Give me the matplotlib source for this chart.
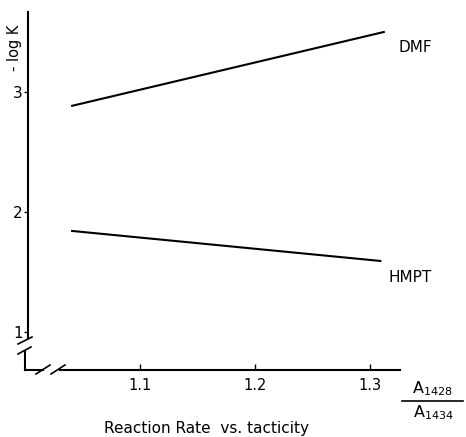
import matplotlib
matplotlib.use("Agg")
import matplotlib.pyplot as plt

# Data
x_dmf = [1.041, 1.312]
y_dmf = [2.885, 3.50]
x_hmpt = [1.041, 1.309]
y_hmpt = [1.842, 1.592]
xticks = [1.1, 1.2, 1.3]
xtick_labels = ["1.1", "1.2", "1.3"]
yticks = [1, 2, 3]
ytick_labels = ["1", "2", "3"]

W, H = 466, 437
fig = plt.figure(figsize=(W / 100, H / 100), dpi=100)
plt.rcParams['font.family'] = ['DejaVu Sans']

def fx(px):
    return px / W

def fy(py):
    return 1 - py / H

left_px, right_px, top_px, bot_px = 28, 400, 12, 370
ax = fig.add_axes([fx(left_px), fy(bot_px), fx(right_px) - fx(left_px), fy(top_px) - fy(bot_px)])
ax.patch.set_alpha(0)
for s in ax.spines.values():
    s.set_visible(False)

# x: pixel 140 -> 1.1, 115 px per 0.1
ax.set_xlim(1.1 - (140 - left_px) / 1150, 1.1 + (right_px - 140) / 1150)
# y: pixel 212 -> 2, 120 px per unit
ax.set_ylim(2 - (bot_px - 212) / 120, 2 + (212 - top_px) / 120)

ax.plot(x_dmf, y_dmf, color='black', lw=1.5)
ax.plot(x_hmpt, y_hmpt, color='black', lw=1.5)

ax.set_xticks(xticks)
ax.set_xticklabels(xtick_labels, fontsize=10.5)
ax.set_yticks(yticks)
ax.set_yticklabels(ytick_labels, fontsize=11)
ax.tick_params(axis='x', direction='in', length=4, width=1, pad=6)
ax.tick_params(axis='y', direction='out', length=3, width=1, pad=1)

# Axis lines with breaks (figure pixel coordinates)
def seg(p0, p1, lw=1.5):
    fig.add_artist(plt.Line2D([fx(p0[0]), fx(p1[0])], [fy(p0[1]), fy(p1[1])],
                              color='black', lw=lw, transform=fig.transFigure))

# y axis upper part
seg((28, 12), (28, 338))
# y break marks
seg((18, 344), (32, 337), 1.2)
seg((18, 354), (31, 347), 1.2)
# y axis lower part
seg((25, 352), (25, 370))
# x axis
seg((25, 370), (43, 370))
seg((36, 374), (50, 365), 1.2)
seg((51, 374), (65, 365), 1.2)
seg((60, 370), (400, 370))

# Labels
fig.text(fx(14), fy(48), "- log K", rotation=90, ha='center', va='center', fontsize=10.5)
fig.text(fx(415), fy(48), "DMF", ha='center', va='center', fontsize=11)
fig.text(fx(410), fy(277), "HMPT", ha='center', va='center', fontsize=11)
fig.text(fx(432), fy(389), r"$\mathregular{A_{1428}}$", ha='center', va='center', fontsize=11.5)
seg((402, 401), (463, 401), 1.2)
fig.text(fx(433), fy(413), r"$\mathregular{A_{1434}}$", ha='center', va='center', fontsize=11.5)
fig.text(fx(206), fy(428), "Reaction Rate  vs. tacticity", ha='center', va='center', fontsize=11)

fig.savefig("out.png", dpi=100)
